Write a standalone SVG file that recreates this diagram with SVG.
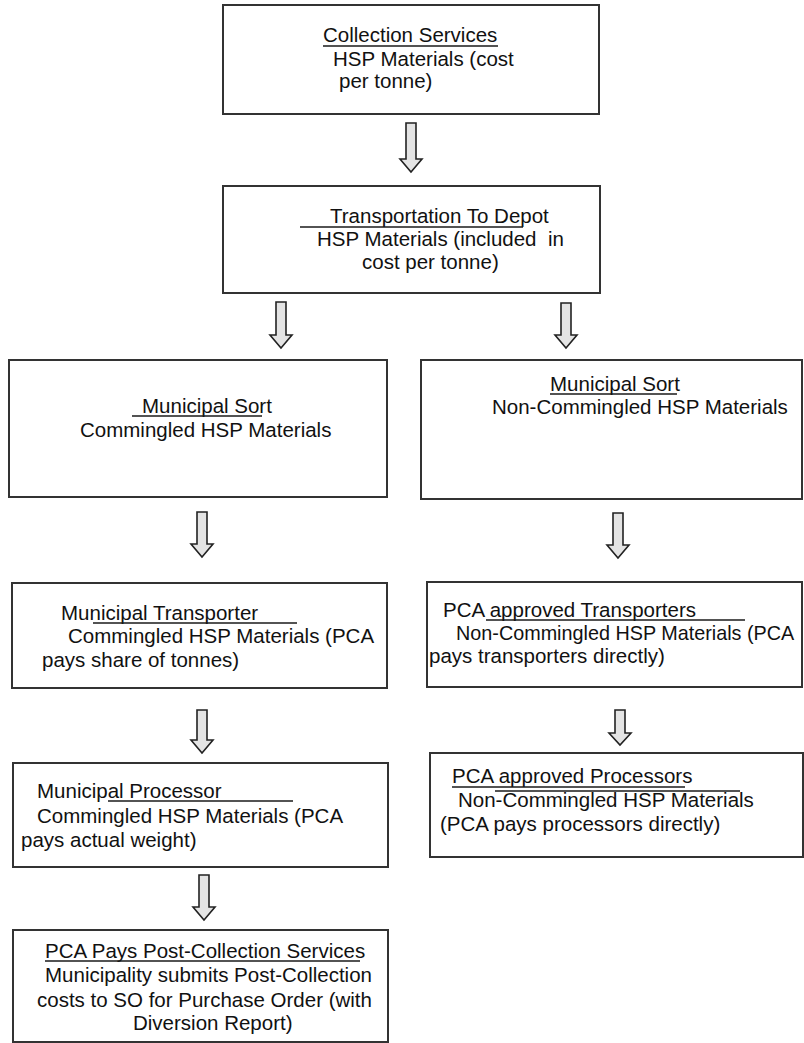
<svg xmlns="http://www.w3.org/2000/svg" width="804" height="1043" viewBox="0 0 804 1043">
<style>
.box{fill:#ffffff;stroke:#333333;stroke-width:2}
.t{font-family:"Liberation Sans",Arial,sans-serif;font-size:20.5px;fill:#111111;white-space:pre}
.ul{stroke:#1a1a1a;stroke-width:1.5}
.arr{fill:#e4e4e4;stroke:#222222;stroke-width:1.6;stroke-linejoin:miter}
</style>
<rect width="804" height="1043" fill="#ffffff"/>
<g id="connectors">
<path class="arr" d="M406,123 H416 V159 H422 L411,172 L400,159 H406 Z"/>
<path class="arr" d="M276,302 H286 V335 H292 L281,348 L270,335 H276 Z"/>
<path class="arr" d="M561,303 H571 V335 H577 L566,348 L555,335 H561 Z"/>
<path class="arr" d="M197,512 H207 V544 H213 L202,557 L191,544 H197 Z"/>
<path class="arr" d="M613,513 H623 V545 H629 L618,558 L607,545 H613 Z"/>
<path class="arr" d="M197,710 H207 V740 H213 L202,753 L191,740 H197 Z"/>
<path class="arr" d="M615,710 H625 V733 H631 L620,745 L609,733 H615 Z"/>
<path class="arr" d="M199,875 H209 V907 H215 L204,920 L193,907 H199 Z"/>
</g>
<g id="collection-services">
<rect class="box" x="223" y="5" width="376" height="109"/>
<text class="t" x="323" y="42">Collection Services</text>
<line class="ul" x1="323" y1="46" x2="498" y2="46"/>
<text class="t" x="333" y="66">HSP Materials (cost</text>
<text class="t" x="339" y="88">per tonne)</text>
</g>
<g id="transportation-to-depot">
<rect class="box" x="223" y="186" width="377" height="107"/>
<text class="t" x="330" y="223">Transportation To Depot</text>
<line class="ul" x1="300" y1="227" x2="523" y2="227"/>
<text class="t" x="317" y="246" xml:space="preserve">HSP Materials (included  in</text>
<text class="t" x="362" y="269">cost per tonne)</text>
</g>
<g id="municipal-sort-commingled">
<rect class="box" x="9" y="360" width="378" height="137"/>
<text class="t" x="142" y="413">Municipal Sort</text>
<line class="ul" x1="132" y1="416" x2="262" y2="416"/>
<text class="t" x="80" y="437">Commingled HSP Materials</text>
</g>
<g id="municipal-sort-non-commingled">
<rect class="box" x="421" y="360" width="381" height="139"/>
<text class="t" x="550" y="391">Municipal Sort</text>
<line class="ul" x1="550" y1="394" x2="677" y2="394"/>
<text class="t" x="492" y="414">Non-Commingled HSP Materials</text>
</g>
<g id="municipal-transporter">
<rect class="box" x="12" y="583" width="375" height="105"/>
<text class="t" x="61" y="620">Municipal Transporter</text>
<line class="ul" x1="93" y1="623" x2="297" y2="623"/>
<text class="t" x="68" y="643">Commingled HSP Materials (PCA</text>
<text class="t" x="42" y="667">pays share of tonnes)</text>
</g>
<g id="pca-approved-transporters">
<rect class="box" x="427" y="582" width="375" height="105"/>
<text class="t" x="456" y="640" style="font-size:19.8px">Non-Commingled HSP Materials (PCA</text>
<text class="t" x="443" y="617">PCA approved Transporters</text>
<line class="ul" x1="486" y1="620" x2="745" y2="620"/>
<text class="t" x="429" y="663">pays transporters directly)</text>
</g>
<g id="municipal-processor">
<rect class="box" x="13" y="763" width="375" height="104"/>
<text class="t" x="37" y="798">Municipal Processor</text>
<line class="ul" x1="108" y1="801" x2="293" y2="801"/>
<text class="t" x="37" y="823">Commingled HSP Materials (PCA</text>
<text class="t" x="21" y="847">pays actual weight)</text>
</g>
<g id="pca-approved-processors">
<rect class="box" x="430" y="753" width="373" height="104"/>
<text class="t" x="452" y="783">PCA approved Processors</text>
<line class="ul" x1="452" y1="787" x2="685" y2="787"/>
<line class="ul" x1="495" y1="791" x2="740" y2="791"/>
<text class="t" x="458" y="807">Non-Commingled HSP Materials</text>
<text class="t" x="440" y="831">(PCA pays processors directly)</text>
</g>
<g id="pca-pays-post-collection">
<rect class="box" x="13" y="930" width="375" height="112"/>
<text class="t" x="45" y="958">PCA Pays Post-Collection Services</text>
<line class="ul" x1="45" y1="961" x2="360" y2="961"/>
<text class="t" x="45" y="982">Municipality submits Post-Collection</text>
<text class="t" x="37" y="1007">costs to SO for Purchase Order (with</text>
<text class="t" x="133" y="1030">Diversion Report)</text>
</g>
</svg>
